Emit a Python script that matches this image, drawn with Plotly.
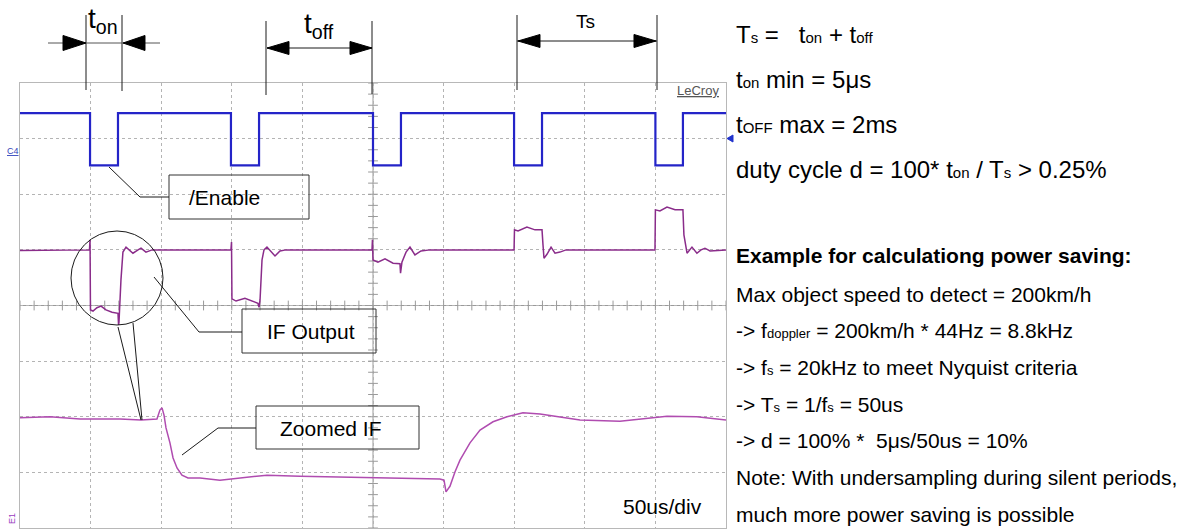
import plotly.graph_objects as go

# ---------------- data (scope: x in microseconds, 50 us/div; y in divisions) ----------------
pulse_start = [49.6, 149.4, 250.0, 349.9, 450.0]
pulse_end = [69.4, 169.3, 269.8, 369.7, 469.5]
enable_high = 3.46
enable_low = 2.52

if_x = [0, 49.2, 49.6, 49.9, 51.7, 54.5, 57.4, 60.9, 65.2, 69.4, 69.8, 70.1, 71.5, 72.9, 75.1, 77.2, 80.0, 83.6, 85.7, 89.2, 93.5,
        149.4, 149.8, 150.1, 153.0, 159.3, 164.3, 168.5, 169.3, 170.0, 171.4, 172.8, 174.9, 177.8, 180.6, 184.1, 188.4,
        249.3, 249.6, 250.0, 253.5, 258.5, 264.2, 269.1, 269.5, 270.5, 273.4, 276.2, 279.7, 284.0, 290.4,
        349.9, 350.2, 352.7, 359.0, 364.7, 369.7, 370.4, 371.1, 373.2, 376.1, 378.9, 382.4, 386.7,
        449.7, 450.0, 453.2, 458.2, 463.9, 469.5, 470.2, 472.4, 475.9, 479.4, 482.3, 485.1, 488.7, 500]
if_y = [0.99, 1.0, 1.18, -0.08, -0.10, -0.04, -0.01, -0.08, -0.12, -0.14, -0.35, -0.30, 0.46, 0.96, 1.05, 1.01, 0.94, 1.0, 1.03, 0.96, 1.0,
        1.0, 1.14, 0.12, 0.08, 0.13, 0.08, 0.04, -0.03, 0.10, 0.82, 1.0, 1.05, 0.96, 0.89, 0.98, 1.0,
        1.0, 1.18, 0.82, 0.78, 0.84, 0.76, 0.75, 0.58, 0.78, 0.96, 1.05, 0.91, 0.98, 1.0,
        1.0, 1.36, 1.34, 1.41, 1.36, 1.36, 1.09, 0.85, 0.92, 1.05, 0.94, 0.96, 1.0,
        1.0, 1.72, 1.70, 1.77, 1.72, 1.72, 1.27, 0.94, 1.05, 0.94, 1.0, 1.03, 0.98, 1.0]

zif_x = [0, 21.2, 42.5, 70.8, 85.7, 97.0, 99.1, 100.6, 102.0, 103.4, 106.2, 108.4, 111.2, 114.7, 119.0,
         127.5, 141.6, 150.1, 162.9, 174.9, 198.3, 221.7, 245.7, 269.1, 297.4, 300.3, 301.7, 304.5, 308.1,
         311.6, 318.7, 325.8, 335.0, 344.9, 356.2, 368.3, 380.3, 396.6, 424.9, 451.1, 458.2, 479.4, 490.8, 500]
zif_y = [-2.02, -2.0, -2.04, -2.04, -2.06, -2.04, -1.88, -1.84, -1.97, -2.20, -2.47, -2.74, -2.92, -3.05, -3.10,
         -3.10, -3.14, -3.12, -3.08, -3.05, -3.07, -3.08, -3.10, -3.10, -3.12, -3.14, -3.35, -3.25, -2.99,
         -2.78, -2.47, -2.24, -2.09, -2.00, -1.93, -1.95, -2.00, -2.06, -2.08, -2.00, -1.99, -2.00, -2.04, -2.06]


def s24(t):
    return f"<span style='font-size:15px'>{t}</span>"


def s21(t):
    return f"<span style='font-size:13px'>{t}</span>"


right_top_lines = [
    "T" + s24("s") + " =\u00a0\u00a0\u00a0t" + s24("on") + " + t" + s24("off"),
    "t" + s24("on") + " min = 5μs",
    "t" + s24("OFF") + " max = 2ms",
    "duty cycle d = 100* t" + s24("on") + " / T" + s24("s") + " &gt; 0.25%",
]
right_bottom_lines = [
    "<b>Example for calculationg power saving:</b>",
    "Max object speed to detect = 200km/h",
    "-&gt; f" + s21("doppler") + " = 200km/h * 44Hz = 8.8kHz",
    "-&gt; f" + s21("s") + " = 20kHz to meet Nyquist criteria",
    "-&gt; T" + s21("s") + " = 1/f" + s21("s") + " = 50us",
    "-&gt; d = 100% *\u00a0\u00a05μs/50us = 10%",
    "Note: With undersampling during silent periods,",
    "much more power saving is possible",
]

# ---------------- build figure ----------------
W, H = 1189, 531
FONT = "Liberation Sans, Arial, sans-serif"
X0, X1, Y0, Y1 = 20, 726, 83, 528  # scope screen in pixels

en_x, en_y = [0], [enable_high]
for s, e in zip(pulse_start, pulse_end):
    en_x += [s, s, e, e]
    en_y += [enable_high, enable_low, enable_low, enable_high]
en_x.append(500)
en_y.append(enable_high)

fig = go.Figure()

# center-line ticks (graticule)
tick_y = [i * 0.2 - 4 for i in range(41)]
tick_x = [i * 10 for i in range(51)]
fig.add_trace(go.Scatter(x=[250] * len(tick_y), y=tick_y, mode="markers", hoverinfo="skip",
                         marker=dict(symbol="line-ew", size=7, line=dict(width=1, color="#9a9a9a")), showlegend=False))
fig.add_trace(go.Scatter(x=tick_x, y=[0] * len(tick_x), mode="markers", hoverinfo="skip",
                         marker=dict(symbol="line-ns", size=7, line=dict(width=1, color="#9a9a9a")), showlegend=False))

fig.add_trace(go.Scatter(x=en_x, y=en_y, mode="lines", line=dict(color="#2424c8", width=2.2), showlegend=False))
fig.add_trace(go.Scatter(x=if_x, y=if_y, mode="lines", line=dict(color="#8a2c8a", width=1.5), showlegend=False))
fig.add_trace(go.Scatter(x=zif_x, y=zif_y, mode="lines", line=dict(color="#b04cb0", width=1.5), showlegend=False))

shapes = []
shapes.append(dict(type="line", xref="x", yref="y", x0=250, x1=250, y0=-4, y1=4, line=dict(color="#9a9a9a", width=1), layer="below"))
shapes.append(dict(type="line", xref="x", yref="y", x0=0, x1=500, y0=0, y1=0, line=dict(color="#9a9a9a", width=1), layer="below"))


def px(x):
    return x / W


def py(y):
    return 1 - y / H


def seg(x0, y0, x1, y1, color="#1a1a1a", w=1):
    shapes.append(dict(type="line", xref="paper", yref="paper", x0=px(x0), y0=py(y0), x1=px(x1), y1=py(y1),
                       line=dict(color=color, width=w)))


def poly(points, color="#000000"):
    path = "M " + " L ".join(f"{px(a):.5f},{py(b):.5f}" for a, b in points) + " Z"
    shapes.append(dict(type="path", xref="paper", yref="paper", path=path, fillcolor=color,
                       line=dict(color=color, width=1)))


def rect(x0, y0, x1, y1):
    shapes.append(dict(type="rect", xref="paper", yref="paper", x0=px(x0), y0=py(y1), x1=px(x1), y1=py(y0),
                       line=dict(color="#333333", width=1)))


def head(tip_x, y, direction, length=22, half=7):
    base = tip_x - direction * length
    poly([(tip_x, y), (base, y - half), (base, y + half)])


# t_on bracket
seg(86, 15, 86, 90)
seg(122, 15, 122, 91)
seg(48, 43, 160, 43, color="#555555")
head(86, 43, 1, 23, 7.5)
head(123, 43, -1, 22, 7.5)
# t_off bracket
seg(266, 21, 266, 95)
seg(372, 21, 372, 94)
seg(267, 48, 372, 48)
head(267, 48, -1, 22, 6.5)
head(372, 48, 1, 22, 6.5)
# Ts bracket
seg(517, 15, 517, 90)
seg(657, 15, 657, 90)
seg(517, 41, 657, 41)
head(518, 41, -1, 22, 6.5)
head(656, 41, 1, 22, 6.5)

# callouts
rect(169, 175, 309, 219)
seg(169, 197, 140, 197)
seg(140, 197, 109, 167)
rect(242, 309, 376, 353)
seg(242, 332, 199, 332)
seg(199, 332, 154, 277)
rect(256, 406, 419, 449)
seg(256, 428, 218, 428)
seg(218, 428, 182, 455)
# magnifier circle and its lines
shapes.append(dict(type="circle", xref="paper", yref="paper", x0=px(71), x1=px(163), y0=py(325), y1=py(231),
                   line=dict(color="#1a1a1a", width=1)))
seg(118, 327, 141, 420)
seg(133, 323, 142, 420)
# trigger level marker
poly([(727, 138.5), (733, 135), (733, 142)], color="#2233cc")

annotations = []


def text(x, y, s, size, xanchor="center", yanchor="middle", color="#000000", textangle=0):
    annotations.append(dict(xref="paper", yref="paper", x=px(x), y=py(y), text=s, showarrow=False,
                            xanchor=xanchor, yanchor=yanchor, textangle=textangle,
                            font=dict(family=FONT, size=size, color=color)))


text(103, 1, "t<sub>on</sub>", 28, yanchor="top")
text(319, 6, "t<sub>off</sub>", 28, yanchor="top")
text(585, 21.5, "Ts", 19)
text(311, 331.6, "IF Output", 21)
text(224, 197.7, "/Enable", 21)
text(331, 428.6, "Zoomed IF", 21)
text(662, 506.6, "50us/div", 21)
text(698, 90.5, "<u>LeCroy</u>", 13, color="#555555")
text(13, 151, "<u>C4</u>", 9, color="#3344bb")
text(12, 519, "E1", 9, color="#9a3cc0", textangle=-90)

top_base = [43, 88, 133, 178]
for s, b in zip(right_top_lines, top_base):
    text(734, b - 0.905 * 24 - 2, s, 24, xanchor="left", yanchor="top")
bot_base = [263, 302, 338, 375, 412, 448, 485, 522]
for s, b in zip(right_bottom_lines, bot_base):
    text(734, b - 0.905 * 21 - 2, s, 21, xanchor="left", yanchor="top")

axis_common = dict(showgrid=True, gridcolor="#b4b4b4", griddash="dot", gridwidth=1, zeroline=False,
                   showticklabels=False, ticks="", showline=True, mirror=True, linecolor="#b8b8b8", linewidth=1,
                   fixedrange=True)
fig.update_layout(
    width=W, height=H, margin=dict(l=0, r=0, t=0, b=0),
    paper_bgcolor="white", plot_bgcolor="white",
    xaxis=dict(domain=[px(X0), px(X1)], range=[0, 500], dtick=50, tick0=0, **axis_common),
    yaxis=dict(domain=[py(Y1), py(Y0)], range=[-4, 4], dtick=1, tick0=-4, **axis_common),
    shapes=shapes, annotations=annotations, showlegend=False,
    font=dict(family=FONT),
)

fig.write_html("out.html", config={"displayModeBar": False},
               post_script="document.body.style.margin='0';document.body.style.overflow='hidden';")
